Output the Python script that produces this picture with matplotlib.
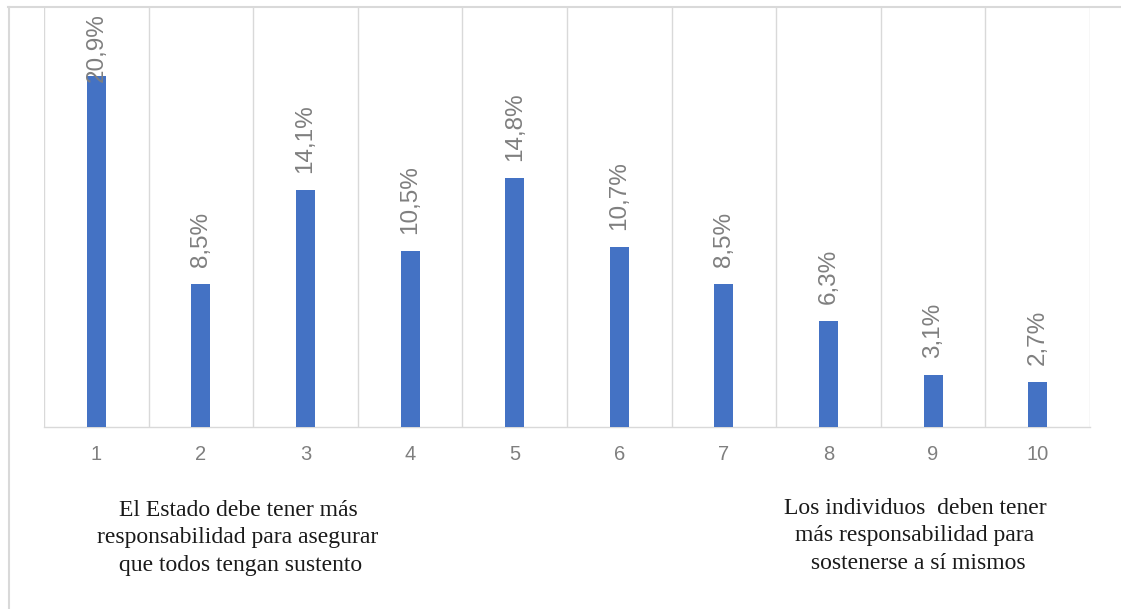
import matplotlib
matplotlib.use("Agg")
import matplotlib.pyplot as plt
from matplotlib.lines import Line2D

categories = ["1", "2", "3", "4", "5", "6", "7", "8", "9", "10"]
values = [20.9, 8.5, 14.1, 10.5, 14.8, 10.7, 8.5, 6.3, 3.1, 2.7]
left_note = "El Estado debe tener más\nresponsabilidad para asegurar\n que todos tengan sustento"
right_note = "Los individuos  deben tener\nmás responsabilidad para\n sostenerse a sí mismos"

W, H, DPI = 1121, 609, 100
fig = plt.figure(figsize=(W / DPI, H / DPI), dpi=DPI)
fig.patch.set_facecolor("white")

ax_l, ax_r, ax_b, ax_t = 44, 1090, 427, 7
ax = fig.add_axes([ax_l / W, 1 - ax_b / H, (ax_r - ax_l) / W, (ax_b - ax_t) / H])

x = list(range(1, len(categories) + 1))
bar_color = "#4472C4"
grid_color = "#D9D9D9"
label_color = "#7F7F7F"

ymax = 25
ax.bar(x, values, width=0.18, color=bar_color, zorder=3)
ax.set_xlim(0.5, len(categories) + 0.5)
ax.set_ylim(0, ymax)

# vertical gridlines at category boundaries
for b in [i + 0.5 for i in range(0, len(categories) + 1)]:
    ax.axvline(b, color=grid_color, lw=1.0, zorder=1)

for s in ["top", "right", "left"]:
    ax.spines[s].set_visible(False)
ax.spines["bottom"].set_color(grid_color)
ax.spines["bottom"].set_linewidth(1.0)
ax.set_yticks([])
ax.set_xticks(x)
ax.set_xticklabels(categories, fontsize=14.5, color=label_color, fontfamily="Liberation Sans")
ax.tick_params(axis="x", length=0, pad=13)

# data labels (rotated), kept inside the plot area
px_per_unit = (ax_b - ax_t) / ymax
gap_units = 17 / px_per_unit
label_len_units = 67 / px_per_unit
top_limit = ymax - 8 / px_per_unit
for xi, v in zip(x, values):
    y0 = min(v + gap_units, top_limit - label_len_units)
    ax.text(xi, y0, f"{v:.1f}%".replace(".", ","), rotation=90, ha="center", va="bottom",
            fontsize=17.5, color=label_color, fontfamily="Liberation Sans", zorder=4)

# outer chart frame (top and left edges)
fig.add_artist(Line2D([8 / W, 1], [1 - 7 / H, 1 - 7 / H], color=grid_color, lw=1.5,
                      transform=fig.transFigure))
fig.add_artist(Line2D([9 / W, 9 / W], [0, 1 - 7 / H], color=grid_color, lw=1.5,
                      transform=fig.transFigure))

# bottom notes
fig.text(238 / W, 1 - 538 / H, left_note, ha="center", va="center", multialignment="center",
         fontsize=17, fontfamily="Liberation Serif", color="#1a1a1a", linespacing=1.4)
fig.text(915 / W, 1 - 536 / H, right_note, ha="center", va="center", multialignment="center",
         fontsize=17, fontfamily="Liberation Serif", color="#1a1a1a", linespacing=1.4)

fig.savefig("out.png", dpi=DPI, facecolor="white")
